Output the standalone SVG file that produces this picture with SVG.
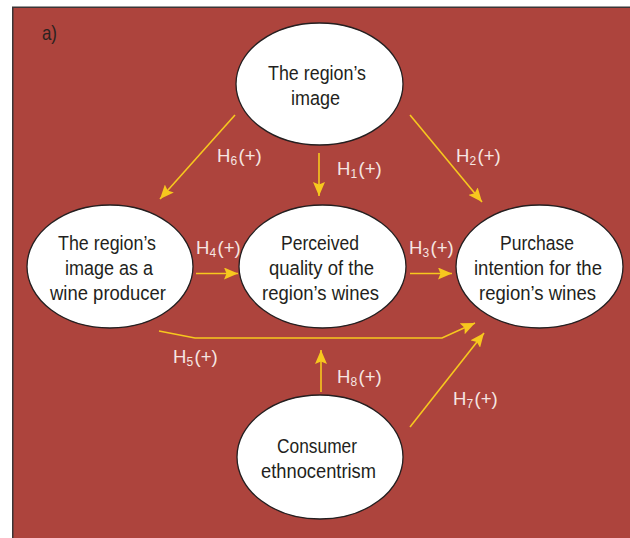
<svg xmlns="http://www.w3.org/2000/svg" width="630" height="538" viewBox="0 0 630 538">
<style>
.node ellipse{fill:#ffffff;stroke:#231f20;stroke-width:1.3}
.node text{font-family:"Liberation Sans",Arial,sans-serif;font-size:20.5px;fill:#231f20}
.lbl{font-family:"Liberation Sans",Arial,sans-serif;font-size:18.5px;fill:#f6e6e2}
.lbl tspan.s{font-size:12px}
#connectors path{fill:none;stroke:#f7c81e;stroke-width:1.6}
</style>
<defs>
<marker id="ah" markerUnits="userSpaceOnUse" markerWidth="14" markerHeight="12" viewBox="0 0 14 12" refX="14" refY="6" orient="auto">
<path d="M0,0 L14,6 L0,12 L2.5,6 Z" fill="#f7c81e"/>
</marker>
</defs>
<rect x="12.75" y="7.25" width="630" height="540" fill="#ad443d" stroke="#3b3536" stroke-width="1.5"/>
<text x="42" y="40" font-family="'Liberation Sans',Arial,sans-serif" font-size="21" fill="#2b2220" textLength="15" lengthAdjust="spacingAndGlyphs">a)</text>

<g id="connectors">
<path d="M235,115 L160,199" marker-end="url(#ah)"/>
<path d="M319,153 L319,196" marker-end="url(#ah)"/>
<path d="M410,115 L482,202" marker-end="url(#ah)"/>
<path d="M196,273.5 L238,273.5" marker-end="url(#ah)"/>
<path d="M410,273.5 L452,273.5" marker-end="url(#ah)"/>
<path d="M159,331 L195,338 L442,338 L475,323" marker-end="url(#ah)"/>
<path d="M321,392 L321,350" marker-end="url(#ah)"/>
<path d="M410,427 L484,333" marker-end="url(#ah)"/>
</g>

<g id="labels">
<text class="lbl" x="217" y="162">H<tspan class="s" dy="3">6</tspan><tspan dx="1.5" dy="-3">(+)</tspan></text>
<text class="lbl" x="337" y="175">H<tspan class="s" dy="3">1</tspan><tspan dx="1.5" dy="-3">(+)</tspan></text>
<text class="lbl" x="456" y="162">H<tspan class="s" dy="3">2</tspan><tspan dx="1.5" dy="-3">(+)</tspan></text>
<text class="lbl" x="196" y="254">H<tspan class="s" dy="3">4</tspan><tspan dx="1.5" dy="-3">(+)</tspan></text>
<text class="lbl" x="409" y="254">H<tspan class="s" dy="3">3</tspan><tspan dx="1.5" dy="-3">(+)</tspan></text>
<text class="lbl" x="173" y="363">H<tspan class="s" dy="3">5</tspan><tspan dx="1.5" dy="-3">(+)</tspan></text>
<text class="lbl" x="337" y="383">H<tspan class="s" dy="3">8</tspan><tspan dx="1.5" dy="-3">(+)</tspan></text>
<text class="lbl" x="453" y="405">H<tspan class="s" dy="3">7</tspan><tspan dx="1.5" dy="-3">(+)</tspan></text>
</g>

<g id="node-region-image" class="node">
<ellipse cx="319.5" cy="84" rx="83.5" ry="61"/>
<text x="268" y="80" textLength="98" lengthAdjust="spacingAndGlyphs">The region’s</text>
<text x="291" y="105" textLength="49" lengthAdjust="spacingAndGlyphs">image</text>
</g>

<g id="node-wine-producer" class="node">
<ellipse cx="110" cy="266.5" rx="83" ry="61.5"/>
<text x="58" y="250" textLength="98" lengthAdjust="spacingAndGlyphs">The region’s</text>
<text x="65" y="275" textLength="88" lengthAdjust="spacingAndGlyphs">image as a</text>
<text x="50" y="299.5" textLength="116" lengthAdjust="spacingAndGlyphs">wine producer</text>
</g>

<g id="node-perceived-quality" class="node">
<ellipse cx="322.5" cy="266.5" rx="83.5" ry="61.5"/>
<text x="281" y="249.5" textLength="78" lengthAdjust="spacingAndGlyphs">Perceived</text>
<text x="269" y="274.5" textLength="105" lengthAdjust="spacingAndGlyphs">quality of the</text>
<text x="262" y="300" textLength="117" lengthAdjust="spacingAndGlyphs">region’s wines</text>
</g>

<g id="node-purchase-intention" class="node">
<ellipse cx="539.5" cy="266.5" rx="83.5" ry="61.5"/>
<text x="500" y="249.5" textLength="74" lengthAdjust="spacingAndGlyphs">Purchase</text>
<text x="474" y="275" textLength="128" lengthAdjust="spacingAndGlyphs">intention for the</text>
<text x="479" y="299.5" textLength="117" lengthAdjust="spacingAndGlyphs">region’s wines</text>
</g>

<g id="node-ethnocentrism" class="node">
<ellipse cx="320" cy="457" rx="83" ry="62"/>
<text x="277" y="453" textLength="80" lengthAdjust="spacingAndGlyphs">Consumer</text>
<text x="261" y="478" textLength="115" lengthAdjust="spacingAndGlyphs">ethnocentrism</text>
</g>
</svg>
